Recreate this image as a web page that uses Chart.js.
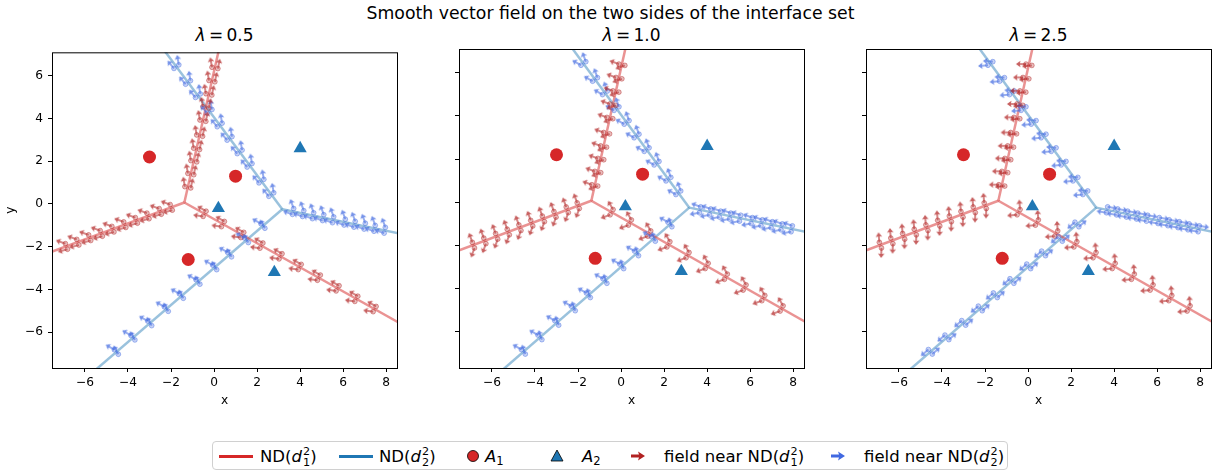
<!DOCTYPE html>
<html><head><meta charset="utf-8">
<script src="https://cdn.jsdelivr.net/npm/chart.js@4.4.0/dist/chart.umd.min.js"></script>
<style>
html,body{margin:0;padding:0;background:#fff;width:1221px;height:472px;overflow:hidden;font-family:"DejaVu Sans",sans-serif;color:#000;}
.abs{position:absolute;}
#title{left:0;width:1221px;top:3px;text-align:center;font-size:17.3px;line-height:20px;white-space:nowrap;}
.sub{top:25px;text-align:center;font-size:17px;line-height:20px;width:345px;white-space:nowrap;}
.eq{margin:0 .2em;}
canvas.pc{position:absolute;top:40px;}
#legend{left:212px;top:441px;width:796px;height:29px;border:1px solid #d0d0d0;border-radius:4px;box-sizing:border-box;background:#fff;}
.lt{position:absolute;top:0;font-size:16.5px;line-height:29px;white-space:nowrap;}
.ss{display:inline-block;vertical-align:-0.32em;font-size:0.68em;line-height:0.95em;text-align:left;margin-left:1px;}
.ss span{display:block;}
sub{font-size:0.7em;vertical-align:-0.25em;line-height:0;}
.li{position:absolute;}
</style></head>
<body>
<div id="title" class="abs">Smooth vector field on the two sides of the interface set</div>
<div class="sub abs" style="left:52px"><i>λ</i><span class="eq">=</span>0.5</div>
<div class="sub abs" style="left:459px"><i>λ</i><span class="eq">=</span>1.0</div>
<div class="sub abs" style="left:866px"><i>λ</i><span class="eq">=</span>2.5</div>
<canvas id="c0" class="pc" width="407" height="385" style="left:0px"></canvas>
<canvas id="c1" class="pc" width="407" height="385" style="left:407px"></canvas>
<canvas id="c2" class="pc" width="407" height="385" style="left:814px"></canvas>

<div id="legend" class="abs">
  <div class="li" style="left:6px;top:13px;width:34px;height:2.5px;background:#d62728"></div>
  <div class="lt" style="left:47px">ND(<i>d</i><span class="ss"><span>2</span><span>1</span></span>)</div>
  <div class="li" style="left:126px;top:13px;width:34px;height:2.5px;background:#1f77b4"></div>
  <div class="lt" style="left:166px">ND(<i>d</i><span class="ss"><span>2</span><span>2</span></span>)</div>
  <svg class="li" style="left:252px;top:6px" width="16" height="16"><circle cx="8" cy="8" r="5.5" fill="#d62728" stroke="#000" stroke-width="0.8"/></svg>
  <div class="lt" style="left:272px"><i>A</i><sub>1</sub></div>
  <svg class="li" style="left:336px;top:6px" width="16" height="16"><polygon points="8,2 14,13 2,13" fill="#1f77b4" stroke="#000" stroke-width="0.8"/></svg>
  <div class="lt" style="left:369px"><i>A</i><sub>2</sub></div>
  <svg class="li" style="left:417px;top:8px" width="18" height="12"><polygon points="1,4.6 9,4.6 8,1.5 15,6 8,10.5 9,7.4 1,7.4" fill="#b22222"/></svg>
  <div class="lt" style="left:451px">field near ND(<i>d</i><span class="ss"><span>2</span><span>1</span></span>)</div>
  <svg class="li" style="left:617px;top:8px" width="18" height="12"><polygon points="1,4.6 9,4.6 8,1.5 15,6 8,10.5 9,7.4 1,7.4" fill="#4169e1"/></svg>
  <div class="lt" style="left:651px">field near ND(<i>d</i><span class="ss"><span>2</span><span>2</span></span>)</div>
</div>

<script>
// ---------------- data ----------------
const xTicks = [-6, -4, -2, 0, 2, 4, 6, 8];
const yTicks = [-6, -4, -2, 0, 2, 4, 6];
const xRange = [-7.53, 8.5];
const yRange = [-7.68, 7.10];

// point sets
const a1X = [-3.0, 1.0, -1.2];
const a1Y = [2.2, 1.3, -2.6];
const a2X = [4.0, 0.2, 2.8];
const a2Y = [2.6, -0.2, -3.2];

// interface sets: junction + three branch ends
const redJunction = [-1.38, 0.07];
const redEndsX = [0.40, -8.0, 9.0];
const redEndsY = [8.0, -2.41, -5.79];
const blueJunction = [3.17, -0.25];
const blueEndsX = [-2.91, 9.0, -6.35];
const blueEndsY = [8.0, -1.46, -8.5];

// field sample points along each branch
const redSampX = [
  [-1.22, -1.08, -0.94, -0.81, -0.67, -0.52, -0.38, -0.24, -0.10, 0.04],
  [-1.99, -2.50, -3.07, -3.61, -4.15, -4.70, -5.24, -5.78, -6.33, -6.86],
  [-0.44, 0.41, 1.31, 2.20, 3.09, 3.98, 4.87, 5.74, 6.61, 7.46]];
const redSampY = [
  [0.78, 1.40, 2.00, 2.58, 3.20, 3.90, 4.52, 5.13, 5.75, 6.37],
  [-0.16, -0.35, -0.56, -0.77, -0.97, -1.18, -1.38, -1.58, -1.79, -1.99],
  [-0.46, -0.94, -1.45, -1.95, -2.45, -2.95, -3.45, -3.95, -4.44, -4.92]];
const blueSampX = [
  [2.66, 2.20, 1.65, 1.19, 0.72, 0.26, -0.21, -0.75, -1.21, -1.75],
  [3.67, 4.14, 4.60, 5.07, 5.53, 6.07, 6.53, 7.00, 7.46, 7.93],
  [2.27, 1.50, 0.72, 0.03, -0.75, -1.52, -2.22, -2.99, -3.77, -4.54]];
const blueSampY = [
  [0.44, 1.07, 1.81, 2.44, 3.07, 3.70, 4.34, 5.07, 5.69, 6.43],
  [-0.35, -0.45, -0.55, -0.64, -0.74, -0.85, -0.95, -1.04, -1.14, -1.23],
  [-1.03, -1.70, -2.37, -2.97, -3.65, -4.31, -4.92, -5.59, -6.26, -6.93]];

// field arrow directions (degrees, counter-clockwise) per panel, per branch: [side +, side -]
const lambdaLabels = ['0.5', '1.0', '2.5'];
const redAngles = [
  [[100, 78], [195, 160], [150, 172]],
  [[160, 200], [250, 110], [120, 200]],
  [[180, 186], [268, 95], [95, 185]]];
const blueAngles = [
  [[130, 100], [110, 160], [120, 150]],
  [[150, 110], [160, 190], [110, 150]],
  [[185, 175], [350, 170], [41, 221]]];

// ---------------- styling ----------------
const RED = '#d62728', BLUE = '#1f77b4';
const RED_LINE = 'rgba(214,39,40,0.5)', BLUE_LINE = 'rgba(31,119,180,0.45)';
const FIELD_RED = [178, 34, 34], FIELD_BLUE = [65, 105, 225];
const SIDE_OFF = 0.14;   // offset of field anchors from the interface (data units)
const ARROW_LEN = 10;    // px

Chart.defaults.font.family = '"DejaVu Sans", sans-serif';
Chart.defaults.font.size = 12.2;
Chart.defaults.color = '#000';

function rgba(c, a) { return 'rgba(' + c[0] + ',' + c[1] + ',' + c[2] + ',' + a + ')'; }

function arrowImg(col, len) {
  const c = document.createElement('canvas');
  c.width = 2 * len + 2; c.height = 10;
  const g = c.getContext('2d');
  const cx = len + 1, cy = 5, head = 4.5, hw = 3.3, sw = 0.85;
  g.fillStyle = col;
  g.beginPath();
  g.moveTo(cx, cy - sw); g.lineTo(cx + len - head + 0.5, cy - sw); g.lineTo(cx + len - head, cy - hw);
  g.lineTo(cx + len, cy); g.lineTo(cx + len - head, cy + hw); g.lineTo(cx + len - head + 0.5, cy + sw);
  g.lineTo(cx, cy + sw); g.closePath(); g.fill();
  return c;
}
const redArrow = arrowImg(rgba(FIELD_RED, 0.72), ARROW_LEN);
const blueArrow = arrowImg(rgba(FIELD_BLUE, 0.72), ARROW_LEN);

function branchLines(junc, ex, ey, color) {
  return ex.map((x, i) => ({
    type: 'scatter', showLine: true, data: [{x: junc[0], y: junc[1]}, {x: x, y: ey[i]}],
    borderColor: color, borderWidth: 2.5, pointRadius: 0, order: 3, fill: false
  }));
}

function fieldPoints(junc, ex, ey, sx, sy, angles) {
  const pts = [];
  ex.forEach((x, b) => {
    const dx = x - junc[0], dy = ey[b] - junc[1];
    const l = Math.hypot(dx, dy);
    const nx = -dy / l, ny = dx / l;
    sx[b].forEach((px, k) => {
      const py = sy[b][k];
      pts.push({x: px + SIDE_OFF * nx, y: py + SIDE_OFF * ny, a: angles[b][0]});
      pts.push({x: px - SIDE_OFF * nx, y: py - SIDE_OFF * ny, a: angles[b][1]});
    });
  });
  return pts;
}

const framePlugin = {
  id: 'frame',
  afterDatasetsDraw(chart) {
    const a = chart.chartArea, ctx = chart.ctx;
    ctx.save();
    ctx.strokeStyle = '#000'; ctx.lineWidth = 1;
    ctx.strokeRect(a.left + 0.5, a.top + 0.5, a.right - a.left, a.bottom - a.top);
    ctx.restore();
  }
};

function makeChart(p) {
  const redPts = fieldPoints(redJunction, redEndsX, redEndsY, redSampX, redSampY, redAngles[p]);
  const bluePts = fieldPoints(blueJunction, blueEndsX, blueEndsY, blueSampX, blueSampY, blueAngles[p]);
  const datasets = [
    {data: a1X.map((x, i) => ({x: x, y: a1Y[i]})), pointStyle: 'circle', pointRadius: 6.5,
     backgroundColor: RED, borderWidth: 0, order: 0},
    {data: a2X.map((x, i) => ({x: x, y: a2Y[i]})), pointStyle: 'triangle', pointRadius: 7.6,
     backgroundColor: BLUE, borderWidth: 0, order: 0},
    {data: redPts, pointStyle: redArrow, pointRadius: 3, rotation: c => -c.raw.a, order: 1},
    {data: bluePts, pointStyle: blueArrow, pointRadius: 3, rotation: c => -c.raw.a, order: 1},
    {data: redPts, pointStyle: 'circle', pointRadius: 2.4, backgroundColor: rgba(FIELD_RED, 0.3),
     borderColor: rgba(FIELD_RED, 0.55), borderWidth: 0.8, order: 2},
    {data: bluePts, pointStyle: 'circle', pointRadius: 2.4, backgroundColor: rgba(FIELD_BLUE, 0.3),
     borderColor: rgba(FIELD_BLUE, 0.55), borderWidth: 0.8, order: 2},
    ...branchLines(redJunction, redEndsX, redEndsY, RED_LINE),
    ...branchLines(blueJunction, blueEndsX, blueEndsY, BLUE_LINE)
  ];
  const tickFmt = v => String(v).replace('-', '\u2212');
  new Chart(document.getElementById('c' + p), {
    type: 'scatter',
    data: {datasets},
    plugins: [framePlugin],
    options: {
      responsive: false, animation: false, devicePixelRatio: 1, events: [],
      layout: {padding: {left: 0, right: 10, top: 9, bottom: 0}},
      plugins: {legend: {display: false}, tooltip: {enabled: false}, title: {display: false}},
      scales: {
        x: {
          type: 'linear', min: xRange[0], max: xRange[1],
          afterBuildTicks: s => { s.ticks = xTicks.map(v => ({value: v})); },
          afterFit: s => { s.height = 57; },
          ticks: {callback: tickFmt, padding: 4, maxRotation: 0, autoSkip: false},
          grid: {drawOnChartArea: false, drawTicks: true, tickLength: 4, color: '#000', lineWidth: 1},
          border: {display: false},
          title: {display: true, text: 'x', padding: {top: 0, bottom: 17}}
        },
        y: {
          type: 'linear', min: yRange[0], max: yRange[1],
          afterBuildTicks: s => { s.ticks = yTicks.map(v => ({value: v})); },
          afterFit: s => { s.width = 52; },
          ticks: {callback: tickFmt, padding: 5, display: p === 0, autoSkip: false},
          grid: {drawOnChartArea: false, drawTicks: true, tickLength: 4, color: '#000', lineWidth: 1},
          border: {display: false},
          title: {display: p === 0, text: 'y', padding: {top: 3.7, bottom: 0}}
        }
      }
    }
  });
}
[0, 1, 2].forEach(makeChart);
</script>
</body></html>
